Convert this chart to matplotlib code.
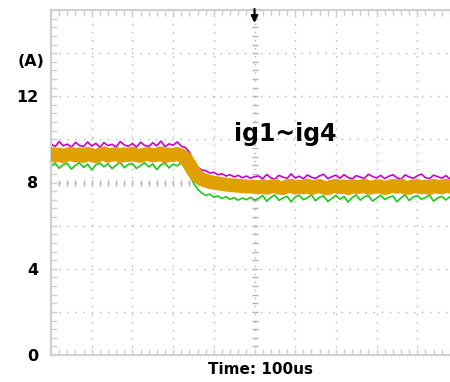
import numpy as np
import matplotlib
matplotlib.use("Agg")
import matplotlib.pyplot as plt

# time base: 100 us/div, 10 divisions, one sample every 10 us
t_us = np.arange(0, 1001, 10)

# gate currents (A)
ig_orange = [
    9.32, 9.24, 9.30, 9.22, 9.29, 9.34, 9.25, 9.31, 9.23, 9.33,
    9.27, 9.21, 9.30, 9.35, 9.24, 9.29, 9.33, 9.22, 9.31, 9.26,
    9.34, 9.27, 9.23, 9.30, 9.32, 9.25, 9.28, 9.35, 9.22, 9.30,
    9.27, 9.33, 9.25,
    9.12, 8.85, 8.52, 8.28, 8.16, 8.08, 8.03, 7.99, 7.96, 7.93,
    7.90, 7.88, 7.86, 7.85, 7.83, 7.82, 7.81, 7.80,
    7.77, 7.84, 7.75, 7.81, 7.86, 7.76, 7.74, 7.82, 7.85, 7.76,
    7.81, 7.77, 7.86, 7.74, 7.80, 7.84, 7.76, 7.73, 7.81, 7.85,
    7.77, 7.82, 7.74, 7.84, 7.78, 7.80, 7.86, 7.75, 7.78, 7.83,
    7.81, 7.74, 7.79, 7.85, 7.80, 7.86, 7.76, 7.75, 7.82, 7.84,
    7.77, 7.81, 7.74, 7.85, 7.80, 7.77, 7.86, 7.81, 7.75, 7.80,
]
ig_magenta = [
    9.80, 9.66, 9.90, 9.70, 9.78, 9.64, 9.86, 9.72, 9.67, 9.88,
    9.69, 9.82, 9.63, 9.85, 9.71, 9.77, 9.65, 9.90, 9.74, 9.68,
    9.81, 9.64, 9.87, 9.72, 9.67, 9.84, 9.70, 9.92, 9.66, 9.79,
    9.73, 9.88, 9.69,
    9.62, 9.40, 9.02, 8.72, 8.58, 8.55, 8.44, 8.47, 8.36, 8.41,
    8.30, 8.36, 8.26, 8.33, 8.22, 8.30, 8.20, 8.27,
    8.30, 8.18, 8.37, 8.22, 8.16, 8.33, 8.25, 8.19, 8.40, 8.21,
    8.29, 8.17, 8.35, 8.24, 8.19, 8.31, 8.38, 8.18, 8.27, 8.34,
    8.20, 8.36, 8.23, 8.17, 8.32, 8.25, 8.19, 8.38, 8.28, 8.21,
    8.33, 8.18, 8.29, 8.36, 8.22, 8.16, 8.35, 8.26, 8.19, 8.31,
    8.39, 8.23, 8.18, 8.34, 8.27, 8.20, 8.32, 8.17, 8.37, 8.24,
]
ig_green = [
    8.76, 8.90, 8.66, 8.83, 8.89, 8.62, 8.80, 8.92, 8.70, 8.85,
    8.58, 8.82, 8.90, 8.73, 8.87, 8.64, 8.81, 8.93, 8.69, 8.84,
    8.88, 8.65, 8.79, 8.91, 8.72, 8.86, 8.60, 8.82, 8.90, 8.68,
    8.85, 8.77, 8.92,
    8.70, 8.35, 7.98, 7.70, 7.52, 7.40, 7.46, 7.32, 7.38, 7.26,
    7.34, 7.22, 7.30, 7.18, 7.28, 7.20, 7.31, 7.19,
    7.26, 7.40, 7.13, 7.31, 7.42, 7.17, 7.28, 7.36, 7.10, 7.33,
    7.41, 7.20, 7.29, 7.43, 7.15, 7.32, 7.38, 7.12, 7.26, 7.40,
    7.22, 7.35, 7.09, 7.30, 7.42, 7.18, 7.34, 7.39, 7.14, 7.27,
    7.41, 7.21, 7.31, 7.37, 7.11, 7.29, 7.43, 7.16, 7.33, 7.39,
    7.23, 7.30, 7.42, 7.13, 7.28, 7.36, 7.19, 7.34, 7.41, 7.25,
]

y_ticks = [0, 4, 8, 12]
x_div = np.arange(100, 1000, 100)
y_div = np.arange(2, 16, 2)

grid_c = "#b4b4b4"
frame_c = "#cfcfcf"

fig = plt.figure(figsize=(4.5, 3.82), dpi=100)
# the screen extends a little past the right edge of the figure
ax = fig.add_axes([51 / 450, 27 / 382, 407 / 450, 345 / 382])
ax.set_xlim(0, 1000)
ax.set_ylim(0, 16)

# dotted graticule
for xv in x_div:
    ax.axvline(xv, color=grid_c, lw=1.0, ls=(0, (1, 4.8)), zorder=1)
for yv in y_div:
    ax.axhline(yv, color=grid_c, lw=1.0, ls=(0, (1, 4.8)), zorder=1)

# small marks along the center cross
ax.plot(np.full(39, 500), np.arange(0.4, 16, 0.4), ls="none", marker="_",
        ms=4.5, mew=1.0, color=grid_c, zorder=1)
ax.plot(np.arange(20, 1000, 20), np.full(49, 8), ls="none", marker="|",
        ms=4.5, mew=1.0, color=grid_c, zorder=1)

# traces
ax.plot(t_us, ig_magenta, color="#c800d8", lw=1.2, zorder=2)
ax.plot(t_us, ig_green, color="#1ec81e", lw=1.2, zorder=2)
ax.plot(t_us, ig_orange, color="#e0a000", lw=10, zorder=3)

# frame
for side in ["left", "bottom", "top"]:
    ax.spines[side].set_color(frame_c)
    ax.spines[side].set_linewidth(1.5)
ax.spines["right"].set_visible(False)

ax.set_yticks(y_ticks)
ax.set_yticklabels([str(v) for v in y_ticks], fontsize=11.5, fontweight="bold")
ax.set_yticks(np.arange(0, 16.01, 0.4), minor=True)
ax.set_xticks(np.arange(0, 1001, 20))
ax.set_xticklabels([])
ax.tick_params(axis="y", which="both", direction="in", length=4, width=1,
               color=frame_c, pad=9)
ax.tick_params(axis="x", which="both", direction="in", length=4, width=1,
               color=frame_c, top=True)

ax.text(-0.015, 13.6, "(A)", transform=ax.get_yaxis_transform(),
        ha="right", va="center", fontsize=11.5, fontweight="bold")
ax.text(0.45, 0.64, "ig1~ig4", transform=ax.transAxes, ha="left",
        va="center", fontsize=17, fontweight="bold")
fig.text(260 / 450, 1 - 370 / 382, "Time: 100us", ha="center", va="center",
         fontsize=11, fontweight="bold")

# trigger marker
ax.annotate("", xy=(500, 15.4), xytext=(500, 16.05),
            arrowprops=dict(arrowstyle="-|>", color="black", lw=1.5,
                            mutation_scale=10, shrinkA=0, shrinkB=0),
            annotation_clip=False, zorder=5)

fig.savefig("out.png", dpi=100)
